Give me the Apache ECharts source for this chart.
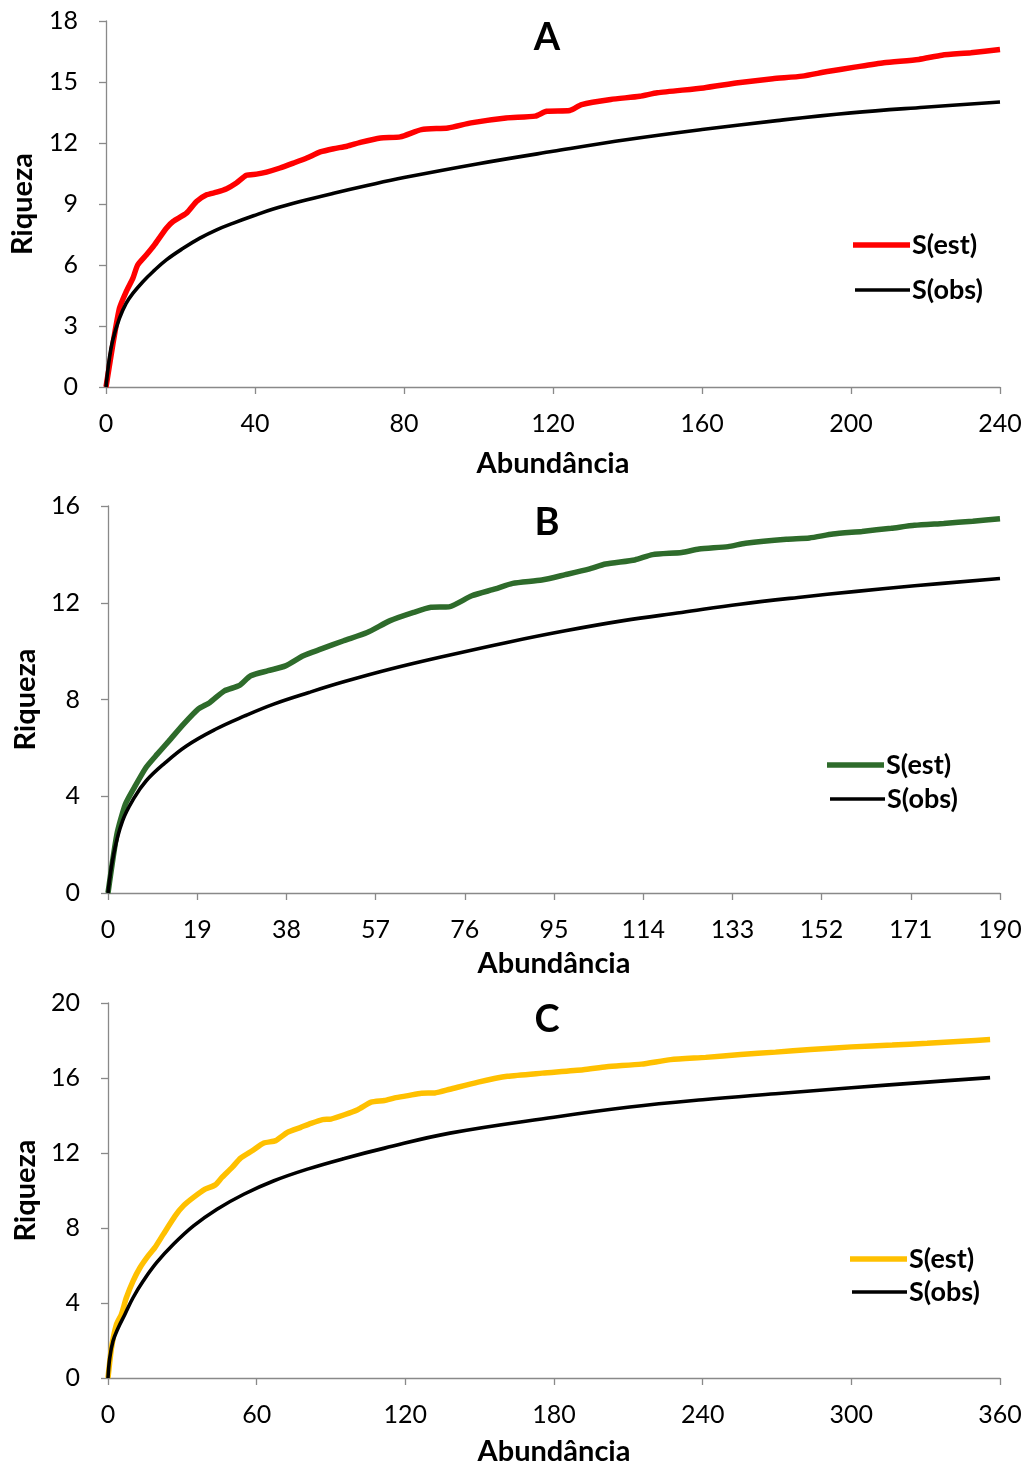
<!DOCTYPE html>
<html>
<head>
<meta charset="utf-8">
<script src="https://cdn.jsdelivr.net/npm/echarts@6/dist/echarts.min.js"></script>
<style>
  html, body { margin: 0; padding: 0; background: #fff; }
  #chart { width: 1029px; height: 1470px; }
</style>
</head>
<body>
<div id="chart"></div>
<script>
// Panel A
const aEstX = [0, 1.8, 3.6, 5.4, 7.2, 8.5, 10.8, 13, 16.2, 18, 21.6, 24.3, 27, 29.7, 32.4, 35, 37.7, 40.4, 43.1, 46.7, 50.3, 53.9, 57.5, 61.1, 64.7, 68.3, 73.7, 79, 84.7, 91.8, 98, 107.4, 115.2, 118.3, 124.5, 127.7, 135.5, 143.3, 148, 160.4, 169.7, 179, 186.9, 193.2, 201, 208.8, 218.2, 224.4, 232.2, 240];
const aEstY = [0, 2.05, 3.86, 4.68, 5.34, 6.0, 6.49, 6.99, 7.81, 8.14, 8.55, 9.12, 9.45, 9.58, 9.75, 10.03, 10.41, 10.47, 10.57, 10.77, 11.01, 11.26, 11.56, 11.72, 11.84, 12.03, 12.25, 12.3, 12.66, 12.74, 12.99, 13.23, 13.32, 13.56, 13.6, 13.89, 14.14, 14.3, 14.47, 14.71, 14.96, 15.16, 15.29, 15.5, 15.73, 15.95, 16.11, 16.32, 16.44, 16.6];
const aObsX = [0, 0.9, 1.8, 3.6, 5.4, 7.2, 9.9, 12.6, 16.2, 20.7, 25.2, 29.7, 34.2, 39.6, 44.9, 52.1, 61.1, 70.1, 80, 99.6, 120, 140.1, 160, 180.1, 200, 219.7, 240];
const aObsY = [0, 1.4, 2.3, 3.37, 4.11, 4.6, 5.18, 5.67, 6.25, 6.82, 7.32, 7.73, 8.06, 8.42, 8.75, 9.12, 9.53, 9.91, 10.3, 10.97, 11.59, 12.17, 12.66, 13.1, 13.48, 13.76, 14.02];

// Panel B
const bEstX = [0, 1.9, 3.7, 5.6, 8.1, 10.5, 13, 16.1, 19.2, 21.7, 24.8, 27.9, 30.4, 34.1, 37.8, 41.6, 45.3, 50.2, 55.2, 60.1, 65.1, 68.8, 72.6, 77.5, 82.5, 86.2, 92.4, 97.4, 102.4, 106, 112.2, 116, 122.2, 125.9, 132.1, 135.8, 144.5, 149.4, 154.4, 160.6, 166.8, 171.8, 178, 184.2, 190];
const bEstY = [0, 2.43, 3.67, 4.36, 5.19, 5.74, 6.29, 6.98, 7.6, 7.88, 8.36, 8.57, 8.98, 9.19, 9.39, 9.81, 10.08, 10.43, 10.77, 11.26, 11.6, 11.81, 11.83, 12.29, 12.57, 12.8, 12.94, 13.16, 13.39, 13.6, 13.77, 13.99, 14.08, 14.22, 14.32, 14.46, 14.63, 14.68, 14.84, 14.95, 15.08, 15.2, 15.28, 15.37, 15.47];
const bObsX = [0, 1.2, 3.1, 5.6, 8.1, 11.8, 16.7, 22.9, 29.1, 35.3, 42.8, 50.2, 60.2, 72.6, 85, 97.4, 109.8, 122.2, 134.6, 147, 159.4, 171.8, 190];
const bObsY = [0, 1.6, 2.98, 3.94, 4.63, 5.32, 6.08, 6.77, 7.32, 7.81, 8.29, 8.73, 9.26, 9.83, 10.36, 10.84, 11.26, 11.6, 11.94, 12.22, 12.47, 12.7, 13.0];

// Panel C
const cEstX = [0, 1.4, 3.4, 5.4, 7.4, 10.1, 12.9, 16.2, 18.9, 22.3, 27.1, 30.4, 34.5, 39.2, 43.3, 46, 50.1, 53.5, 58.2, 62.9, 67.7, 72.4, 77.8, 81.9, 86.6, 90, 95.4, 100.8, 106.2, 111.6, 115.7, 121.1, 126.5, 131.9, 138, 149.4, 161.2, 175.3, 191.8, 201.2, 215.3, 227.1, 241.2, 255.3, 269.4, 283.5, 300, 316.5, 330.6, 344.7, 356];
const cEstY = [0, 1.6, 2.85, 3.39, 4.28, 5.17, 5.88, 6.51, 6.95, 7.66, 8.65, 9.18, 9.63, 10.07, 10.3, 10.7, 11.23, 11.73, 12.12, 12.53, 12.66, 13.1, 13.37, 13.58, 13.78, 13.81, 14.04, 14.31, 14.71, 14.8, 14.94, 15.06, 15.19, 15.2, 15.4, 15.78, 16.09, 16.26, 16.44, 16.6, 16.74, 16.98, 17.1, 17.25, 17.38, 17.52, 17.66, 17.76, 17.85, 17.96, 18.05];
const cObsX = [0, 0.7, 2, 4.1, 6.8, 10.1, 14.2, 19.6, 26.4, 34.5, 44, 54.8, 67, 80.5, 95.4, 111.6, 138, 180, 210.6, 240, 269.4, 300, 330.6, 356];
const cObsY = [0, 1.07, 1.96, 2.67, 3.39, 4.28, 5.17, 6.15, 7.13, 8.11, 9.0, 9.8, 10.52, 11.14, 11.71, 12.26, 13.06, 13.91, 14.45, 14.84, 15.16, 15.48, 15.78, 16.02];

const panelTitles = ['A', 'B', 'C'];
const xMax = [240, 190, 360];
const xStep = [40, 19, 60];
const yMax = [18, 16, 20];
const yStep = [3, 4, 4];
const estColors = ['#ff0000', '#2e6b2b', '#ffc000'];

const FONT = 'Lato, "Open Sans", sans-serif';
const zip = (xs, ys) => xs.map((x, i) => [x, ys[i]]);

const grids = [
  { left: 106, top: 21, width: 894, height: 366 },
  { left: 108, top: 506, width: 892, height: 387 },
  { left: 108, top: 1003, width: 892, height: 375 }
];
const xNameGap = [62, 56, 59];
const yNameGap = [69, 68, 68];
// legend rows: [left, center y] for S(est) and S(obs)
const estLegend = [[848, 240], [822, 760], [845, 1254]];
const obsLegend = [[850, 285], [825, 794], [847, 1287]];

const axisLine = { lineStyle: { color: '#898989', width: 1.3 } };
const axisTick = { show: true, inside: false, length: 7, lineStyle: { color: '#898989', width: 1.3 } };

const xAxes = grids.map((g, i) => ({
  type: 'value', gridIndex: i, min: 0, max: xMax[i], interval: xStep[i],
  axisLine, axisTick, splitLine: { show: false },
  axisLabel: { color: '#000', fontSize: 25, fontFamily: FONT, margin: 24 },
  name: 'Abundância', nameLocation: 'middle', nameGap: xNameGap[i],
  nameTextStyle: { color: '#000', fontSize: 29, fontWeight: 'bold', fontFamily: FONT }
}));
const yAxes = grids.map((g, i) => ({
  type: 'value', gridIndex: i, min: 0, max: yMax[i], interval: yStep[i],
  axisLine: { show: true, ...axisLine }, axisTick, splitLine: { show: false },
  axisLabel: { color: '#000', fontSize: 25, fontFamily: FONT, margin: 28 },
  name: 'Riqueza', nameLocation: 'middle', nameGap: yNameGap[i], nameRotate: 90,
  nameTextStyle: { color: '#000', fontSize: 29, fontWeight: 'bold', fontFamily: FONT }
}));

const estData = [zip(aEstX, aEstY), zip(bEstX, bEstY), zip(cEstX, cEstY)];
const obsData = [zip(aObsX, aObsY), zip(bObsX, bObsY), zip(cObsX, cObsY)];

const legendText = { color: '#000', fontSize: 27, fontWeight: 'bold', fontFamily: FONT, lineHeight: 30, padding: [0, 0, 0, -3] };
const series = [];
const legends = [];
grids.forEach((g, i) => {
  series.push({
    name: 'est' + i, type: 'line', xAxisIndex: i, yAxisIndex: i,
    data: estData[i], showSymbol: false, symbol: 'none', smooth: 0.2,
    lineStyle: { color: estColors[i], width: 5.5 }, itemStyle: { color: estColors[i] }
  });
  series.push({
    name: 'obs' + i, type: 'line', xAxisIndex: i, yAxisIndex: i,
    data: obsData[i], showSymbol: false, symbol: 'none', smooth: 0.4,
    lineStyle: { color: '#000', width: 3.6 }, itemStyle: { color: '#000' }
  });
  legends.push({
    left: estLegend[i][0], top: estLegend[i][1] - 15, icon: 'rect',
    itemWidth: 57, itemHeight: 5.5, selectedMode: false,
    data: ['est' + i], formatter: () => 'S(est)', textStyle: legendText
  });
  legends.push({
    left: obsLegend[i][0], top: obsLegend[i][1] - 15, icon: 'rect',
    itemWidth: 55, itemHeight: 3.6, selectedMode: false,
    data: ['obs' + i], formatter: () => 'S(obs)', textStyle: legendText
  });
});

const chart = echarts.init(document.getElementById('chart'), null, { renderer: 'canvas' });
chart.setOption({
  backgroundColor: '#fff',
  animation: false,
  title: panelTitles.map((t, i) => ({
    text: t, left: 542, top: grids[i].top - 7, textAlign: 'center',
    textStyle: { color: '#000', fontSize: 38, fontWeight: 'bold', fontFamily: FONT }
  })),
  grid: grids,
  xAxis: xAxes,
  yAxis: yAxes,
  legend: legends,
  series
});
</script>
</body>
</html>
